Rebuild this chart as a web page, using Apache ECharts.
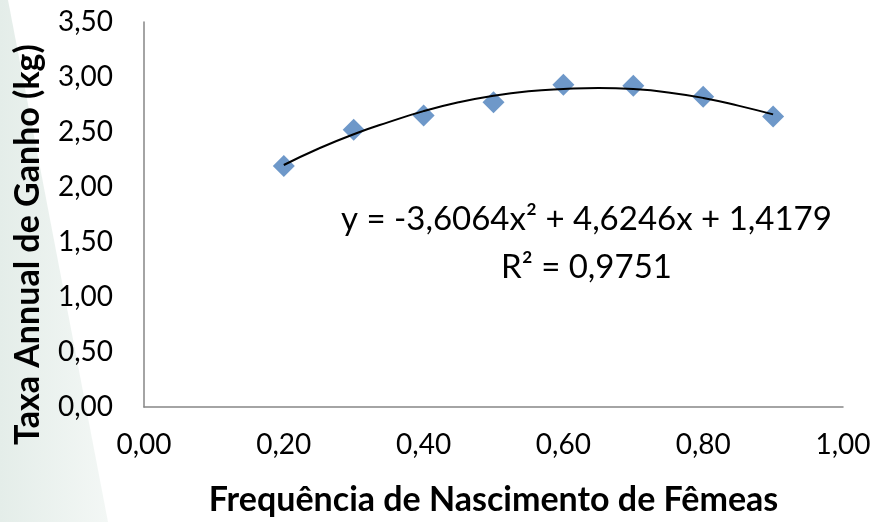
<!DOCTYPE html>
<html>
<head>
<meta charset="utf-8">
<script src="https://cdn.jsdelivr.net/npm/echarts@6/dist/echarts.min.js"></script>
<style>
html,body{margin:0;padding:0;background:#fff;}
#chart{width:875px;height:522px;}
</style>
</head>
<body>
<div id="chart"></div>
<script>
// Observed points
const xValues = [0.2, 0.3, 0.4, 0.5, 0.6, 0.7, 0.8, 0.9];
const yValues = [2.19, 2.52, 2.65, 2.77, 2.93, 2.92, 2.82, 2.64];
// Trendline values
const trendX = [0.2, 0.25, 0.3, 0.35, 0.4, 0.45, 0.5, 0.55, 0.6, 0.65, 0.7, 0.75, 0.8, 0.85, 0.9];
const trendY = [2.20, 2.35, 2.48, 2.59, 2.69, 2.77, 2.83, 2.87, 2.89, 2.90, 2.89, 2.86, 2.81, 2.74, 2.66];
const xTicks = [0, 0.2, 0.4, 0.6, 0.8, 1.0];
const yTicks = [0, 0.5, 1.0, 1.5, 2.0, 2.5, 3.0, 3.5];
const equationText = 'y = -3,6064x² + 4,6246x + 1,4179';
const r2Text = 'R² = 0,9751';
const xTitle = 'Frequência de Nascimento de Fêmeas';
const yTitle = 'Taxa Annual de Ganho (kg)';

const fmt = v => v.toFixed(2).replace('.', ',');
const chart = echarts.init(document.getElementById('chart'), null, {renderer: 'canvas'});
const FONT = 'Lato';
chart.setOption({
  animation: false,
  backgroundColor: '#ffffff',
  graphic: [
    {
      type: 'polygon', z: -10, silent: true,
      shape: {points: [[0, 0], [8, 0], [108, 522], [0, 522]]},
      style: {
        fill: new echarts.graphic.LinearGradient(0, 0, 1, 0, [
          {offset: 0, color: '#e4ede9'},
          {offset: 1, color: '#f3f7f5'}
        ])
      }
    },
    {
      type: 'text', left: 341, top: 203, silent: true,
      style: {text: equationText, fontFamily: FONT, fontSize: 33, fill: '#000'}
    },
    {
      type: 'text', left: 501, top: 251, silent: true,
      style: {text: r2Text, fontFamily: FONT, fontSize: 33, fill: '#000'}
    }
  ],
  grid: {left: 144, right: 32, top: 22, bottom: 110, containLabel: false},
  xAxis: {
    type: 'value', min: 0, max: 1, interval: 0.2,
    name: xTitle, nameLocation: 'middle', nameGap: 76,
    nameTextStyle: {fontFamily: FONT, fontWeight: 'bold', fontSize: 34, color: '#000'},
    axisLine: {show: true, lineStyle: {color: '#868686', width: 1.5}},
    axisTick: {show: false},
    splitLine: {show: false},
    axisLabel: {fontFamily: FONT, fontSize: 28, color: '#000', margin: 24, formatter: fmt}
  },
  yAxis: {
    type: 'value', min: 0, max: 3.5, interval: 0.5,
    name: yTitle, nameLocation: 'middle', nameGap: 99, nameRotate: 90,
    nameTextStyle: {fontFamily: FONT, fontWeight: 'bold', fontSize: 34, color: '#000', padding: [0, 60, 0, 0]},
    axisLine: {show: true, lineStyle: {color: '#868686', width: 1.5}},
    axisTick: {show: false},
    splitLine: {show: false},
    axisLabel: {fontFamily: FONT, fontSize: 28, color: '#000', margin: 31, formatter: fmt}
  },
  series: [
    {
      type: 'scatter', z: 2,
      symbol: 'diamond', symbolSize: 22,
      itemStyle: {color: '#4a7ebb'},
      data: xValues.map((x, i) => [x, yValues[i]])
    },
    {
      type: 'line', z: 3, smooth: true, showSymbol: false, symbol: 'none',
      lineStyle: {color: '#000', width: 2},
      data: trendX.map((x, i) => [x, trendY[i]])
    }
  ]
});
</script>
</body>
</html>
